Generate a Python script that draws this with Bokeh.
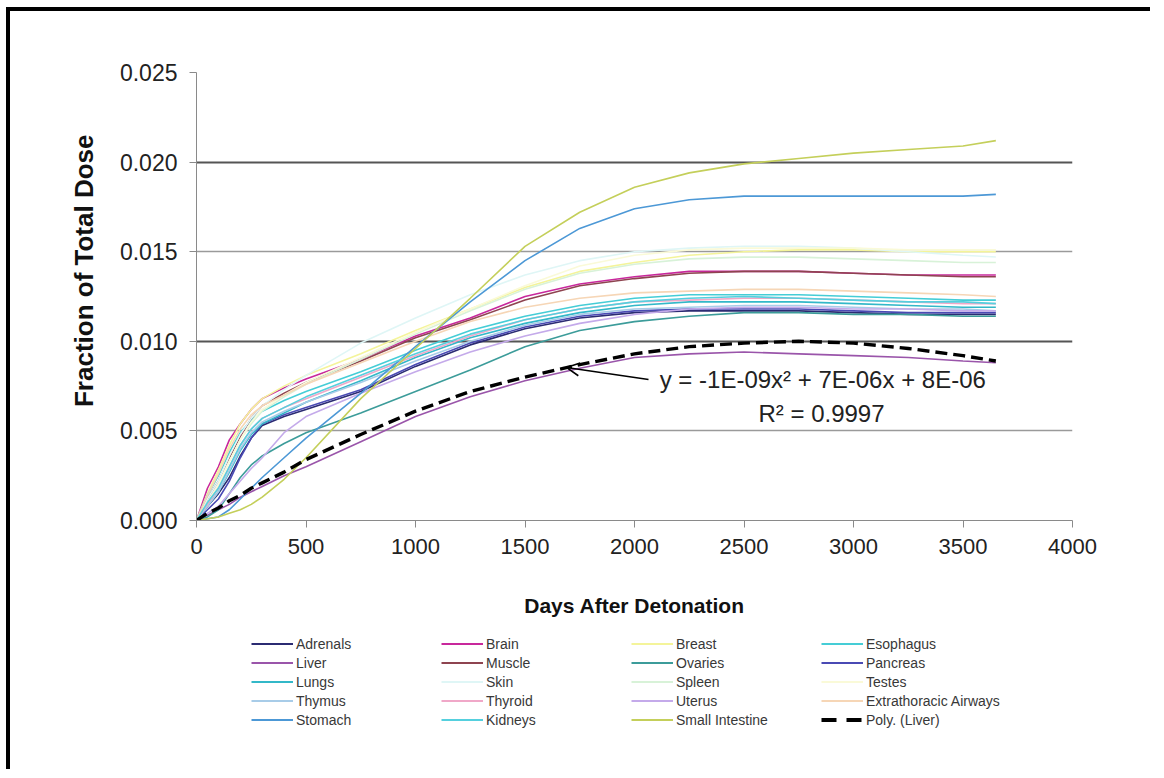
from bokeh.plotting import figure
from bokeh.layouts import column
from bokeh.models import (Range1d, FixedTicker, PrintfTickFormatter, Legend, LegendItem,
                          Label, Arrow, OpenHead, Grid, Title)
from bokeh.embed import file_html
from bokeh.resources import INLINE

# ---------------- data ----------------
days = [0, 50, 100, 150, 200, 250, 300, 400, 500, 750, 1000, 1250, 1500, 1750,
        2000, 2250, 2500, 2750, 3000, 3250, 3500, 3650]

adrenals = [0, 0.0008, 0.0015, 0.0024, 0.0036, 0.0046, 0.0053, 0.0058, 0.0062, 0.0072, 0.0086,
            0.0098, 0.0107, 0.0113, 0.0116, 0.0117, 0.0117, 0.0117, 0.0116, 0.0115, 0.0115, 0.0115]
brain = [0, 0.0018, 0.0030, 0.0045, 0.0054, 0.0062, 0.0068, 0.0074, 0.0079, 0.0090, 0.0103,
         0.0113, 0.0125, 0.0132, 0.0136, 0.0139, 0.0139, 0.0139, 0.0138, 0.0137, 0.0137, 0.0137]
breast = [0, 0.0015, 0.0028, 0.0042, 0.0054, 0.0062, 0.0068, 0.0075, 0.0081, 0.0093, 0.0106,
          0.0118, 0.0130, 0.0139, 0.0144, 0.0148, 0.0150, 0.0151, 0.0151, 0.0150, 0.0150, 0.0150]
esophagus = [0, 0.0014, 0.0025, 0.0038, 0.0049, 0.0056, 0.0061, 0.0067, 0.0072, 0.0083, 0.0095,
             0.0106, 0.0114, 0.0120, 0.0124, 0.0126, 0.0126, 0.0126, 0.0125, 0.0124, 0.0123, 0.0123]
liver = [0, 0.0003, 0.0006, 0.0009, 0.0013, 0.0016, 0.0019, 0.0025, 0.0030, 0.0044, 0.0058,
         0.0069, 0.0078, 0.0085, 0.0091, 0.0093, 0.0094, 0.0093, 0.0092, 0.0091, 0.0089, 0.0088]
muscle = [0, 0.0012, 0.0022, 0.0035, 0.0047, 0.0057, 0.0064, 0.0071, 0.0077, 0.0089, 0.0102,
          0.0112, 0.0123, 0.0131, 0.0135, 0.0138, 0.0139, 0.0139, 0.0138, 0.0137, 0.0136, 0.0136]
ovaries = [0, 0.0002, 0.0006, 0.0015, 0.0024, 0.0031, 0.0036, 0.0043, 0.0049, 0.0060, 0.0072,
           0.0084, 0.0097, 0.0106, 0.0111, 0.0114, 0.0116, 0.0116, 0.0115, 0.0115, 0.0114, 0.0114]
pancreas = [0, 0.0006, 0.0012, 0.0022, 0.0035, 0.0046, 0.0054, 0.0059, 0.0063, 0.0073, 0.0087,
            0.0099, 0.0108, 0.0114, 0.0117, 0.0118, 0.0118, 0.0118, 0.0117, 0.0116, 0.0116, 0.0116]
lungs = [0, 0.0008, 0.0016, 0.0027, 0.0039, 0.0048, 0.0054, 0.0060, 0.0066, 0.0078, 0.0091,
         0.0102, 0.0110, 0.0116, 0.0120, 0.0122, 0.0122, 0.0122, 0.0121, 0.0120, 0.0119, 0.0119]
skin = [0, 0.0012, 0.0022, 0.0036, 0.0048, 0.0057, 0.0064, 0.0073, 0.0081, 0.0099, 0.0113,
        0.0126, 0.0137, 0.0145, 0.0150, 0.0152, 0.0153, 0.0153, 0.0152, 0.0150, 0.0148, 0.0147]
spleen = [0, 0.0010, 0.0020, 0.0033, 0.0045, 0.0054, 0.0061, 0.0069, 0.0076, 0.0090, 0.0104,
          0.0117, 0.0129, 0.0138, 0.0143, 0.0146, 0.0147, 0.0147, 0.0146, 0.0145, 0.0144, 0.0144]
testes = [0, 0.0010, 0.0020, 0.0033, 0.0045, 0.0055, 0.0062, 0.0070, 0.0077, 0.0091, 0.0105,
          0.0118, 0.0131, 0.0142, 0.0148, 0.0151, 0.0152, 0.0152, 0.0152, 0.0151, 0.0151, 0.0151]
thymus = [0, 0.0008, 0.0016, 0.0028, 0.0040, 0.0049, 0.0055, 0.0061, 0.0066, 0.0077, 0.0089,
          0.0100, 0.0109, 0.0115, 0.0118, 0.0119, 0.0120, 0.0120, 0.0119, 0.0118, 0.0118, 0.0117]
thyroid = [0, 0.0009, 0.0018, 0.0030, 0.0042, 0.0051, 0.0057, 0.0063, 0.0068, 0.0080, 0.0092,
           0.0103, 0.0112, 0.0118, 0.0122, 0.0123, 0.0124, 0.0124, 0.0123, 0.0122, 0.0121, 0.0121]
uterus = [0, 0.0004, 0.0008, 0.0015, 0.0022, 0.0029, 0.0035, 0.0049, 0.0058, 0.0071, 0.0083,
          0.0094, 0.0103, 0.0110, 0.0115, 0.0118, 0.0119, 0.0119, 0.0118, 0.0118, 0.0117, 0.0117]
extrathoracic = [0, 0.0014, 0.0026, 0.0040, 0.0051, 0.0059, 0.0064, 0.0070, 0.0076, 0.0088, 0.0100,
                 0.0111, 0.0119, 0.0124, 0.0127, 0.0128, 0.0129, 0.0129, 0.0128, 0.0127, 0.0126, 0.0125]
stomach = [0, 0.0001, 0.0002, 0.0006, 0.0012, 0.0018, 0.0024, 0.0035, 0.0046, 0.0071, 0.0097,
           0.0122, 0.0145, 0.0163, 0.0174, 0.0179, 0.0181, 0.0181, 0.0181, 0.0181, 0.0181, 0.0182]
kidneys = [0, 0.0010, 0.0018, 0.0030, 0.0042, 0.0051, 0.0057, 0.0063, 0.0069, 0.0081, 0.0093,
           0.0104, 0.0112, 0.0118, 0.0122, 0.0124, 0.0125, 0.0124, 0.0123, 0.0122, 0.0122, 0.0121]
small_intestine = [0, 0.0001, 0.0002, 0.0004, 0.0006, 0.0009, 0.0013, 0.0023, 0.0035, 0.0068, 0.0096,
                   0.0124, 0.0153, 0.0172, 0.0186, 0.0194, 0.0199, 0.0202, 0.0205, 0.0207, 0.0209, 0.0212]
poly_liver = [0.0000, 0.0004, 0.0007, 0.0011, 0.0014, 0.0018, 0.0021, 0.0027, 0.0034, 0.0048, 0.0061,
              0.0072, 0.0080, 0.0087, 0.0093, 0.0097, 0.0099, 0.0100, 0.0099, 0.0096, 0.0092, 0.0089]

series_names = ["Adrenals", "Brain", "Breast", "Esophagus", "Liver", "Muscle", "Ovaries",
                "Pancreas", "Lungs", "Skin", "Spleen", "Testes", "Thymus", "Thyroid", "Uterus",
                "Extrathoracic Airways", "Stomach", "Kidneys", "Small Intestine"]
series_values = [adrenals, brain, breast, esophagus, liver, muscle, ovaries, pancreas, lungs, skin,
                 spleen, testes, thymus, thyroid, uterus, extrathoracic, stomach, kidneys,
                 small_intestine]
series_colors = ["#2b2b72", "#c8289c", "#f4f49a", "#45cdd6", "#9a55aa", "#8e4450", "#3c9c9a",
                 "#4a4ab4", "#33b8c8", "#dff6f6", "#d8f2d8", "#fafad8", "#a8cce8", "#f0a8c8",
                 "#c4aaea", "#f6d6b6", "#4c98d6", "#55d0de", "#c4cf5a"]

x_ticks = [0, 500, 1000, 1500, 2000, 2500, 3000, 3500, 4000]
y_ticks = [0.0, 0.005, 0.010, 0.015, 0.020, 0.025]

eq_text = "y = -1E-09x² + 7E-06x + 8E-06"
r2_text = "R² = 0.9997"

FONT = "'Liberation Sans', Arial, sans-serif"

# ---------------- main chart ----------------
p = figure(width=1140, height=618, output_backend="svg", toolbar_location=None,
           x_range=Range1d(0, 4000), y_range=Range1d(0, 0.025),
           min_border_left=186, min_border_right=78, min_border_top=61, min_border_bottom=109)
p.outline_line_color = None
p.background_fill_color = "white"
p.border_fill_color = "white"

# grids: horizontal only
p.xgrid.visible = False
p.ygrid.ticker = FixedTicker(ticks=[0.005, 0.015, 0.025])
p.ygrid.grid_line_color = "#9a9a9a"
p.ygrid.grid_line_width = 1.5
dark_grid = Grid(dimension=1, ticker=FixedTicker(ticks=[0.010, 0.020]),
                 grid_line_color="#555555", grid_line_width=2)
p.add_layout(dark_grid)

# axes
for ax in (p.xaxis[0], p.yaxis[0]):
    ax.axis_line_color = "#8a8a8a"
    ax.major_tick_line_color = "#8a8a8a"
    ax.minor_tick_line_color = None
    ax.major_tick_out = 7
    ax.major_tick_in = 0
    ax.major_label_text_font = FONT
    ax.major_label_text_color = "#222222"
    ax.axis_label_text_font = FONT
    ax.axis_label_text_font_style = "bold"
    ax.axis_label_text_font_size = "21px"
    ax.axis_label_text_color = "#111111"

p.xaxis.major_label_text_font_size = "22px"
p.yaxis.major_label_text_font_size = "23px"
p.xaxis.ticker = FixedTicker(ticks=x_ticks)
p.yaxis.ticker = FixedTicker(ticks=y_ticks)
p.yaxis.formatter = PrintfTickFormatter(format="%.3f")
p.xaxis.axis_label = "Days After Detonation"
p.xaxis.major_label_standoff = 11
p.yaxis.major_label_standoff = 12
p.xaxis.axis_label_standoff = 37

# y-axis title as a side title (sits a little above the frame centre, as in the reference)
p.add_layout(Title(text="Fraction of Total Dose", align="right", offset=62, standoff=34,
                   vertical_align="middle", text_font=FONT, text_font_style="bold",
                   text_font_size="26px", text_color="#111111"), "left")

# series lines
for name, vals, col in zip(series_names, series_values, series_colors):
    p.line(days, vals, line_color=col, line_width=1.6)
p.line(days, poly_liver, line_color="black", line_width=3.4, line_dash="12 6")

# trendline annotation
arrow_tail = (2064, 0.00787)
arrow_tip = (1689, 0.00854)
p.add_layout(Arrow(end=OpenHead(size=13, line_color="black", line_width=1.6),
                   x_start=arrow_tail[0], y_start=arrow_tail[1],
                   x_end=arrow_tip[0], y_end=arrow_tip[1],
                   line_color="black", line_width=1.6))
p.add_layout(Label(x=2115, y=0.00787, text=eq_text, text_font=FONT, text_font_size="24px",
                   text_color="#222222", text_baseline="middle", text_align="left"))
p.add_layout(Label(x=2854, y=0.00597, text=r2_text, text_font=FONT, text_font_size="24px",
                   text_color="#222222", text_baseline="middle", text_align="center"))

# ---------------- legend strip (below the chart) ----------------
leg = figure(width=1140, height=140, output_backend="svg", toolbar_location=None,
             x_range=Range1d(0, 1), y_range=Range1d(0, 1),
             x_axis_type=None, y_axis_type=None,
             min_border_left=0, min_border_right=0, min_border_top=0, min_border_bottom=0)
leg.outline_line_color = None
leg.xgrid.visible = False
leg.ygrid.visible = False

NAN = float("nan")
items = []
for name, col in zip(series_names, series_colors):
    r = leg.line([NAN], [NAN], line_color=col, line_width=2)
    items.append(LegendItem(label=name, renderers=[r]))
rp = leg.line([NAN], [NAN], line_color="black", line_width=4, line_dash="15 10")
items.append(LegendItem(label="Poly. (Liver)", renderers=[rp]))

legend = Legend(items=items, orientation="horizontal", ncols=4,
                location=(55, 40), glyph_width=42, glyph_height=19, label_height=19,
                label_width=145, label_standoff=3, spacing=0, padding=0, margin=0,
                label_text_font=FONT, label_text_font_size="14px", label_text_color="#383838",
                border_line_color=None, background_fill_alpha=0)
leg.add_layout(legend, "center")

layout = column(p, leg, spacing=0,
                styles={"border-top": "4px solid black", "border-left": "4px solid black",
                        "margin-top": "7px", "margin-left": "6px"})

open("out.html", "w").write(file_html(layout, INLINE))
